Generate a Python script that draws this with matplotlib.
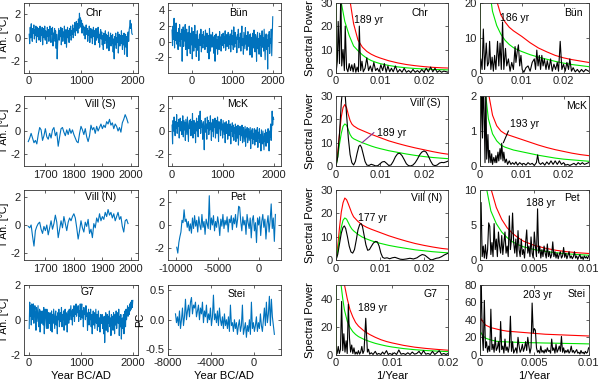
import matplotlib
matplotlib.use("Agg")
import matplotlib.pyplot as plt
import numpy as np

plt.rcParams["font.family"] = ["Liberation Sans", "DejaVu Sans"]
plt.rcParams["font.size"] = 8
plt.rcParams["axes.unicode_minus"] = False

BLUE = "#0072bd"
RED = "#ff0000"
GREEN = "#00e600"
PURPLE = "#7e2f8e"

# ---------------- temperature / proxy records ----------------
chr_span = (0, 1990)
chr_vals = [
    0.3, -0.5, 0.9, 0.0, 1.2, 0.2, -0.3, 0.8, 0.4, 1.1, -0.1, 0.7, 0.2, 1.0, -0.4, 0.6, 0.9, 0.1, 0.8, -0.2,
    0.5, 1.0, -0.3, 0.7, 0.2, 0.9, -0.6, 0.4, 0.8, 0.0, 1.0, -0.2, 0.6, 0.3, -0.5, 0.9, 0.1, 0.7, -0.3, 0.5,
    1.0, 0.2, -0.4, 0.8, 0.3, 0.9, -0.7, 0.4, 0.0, 0.8, -0.3, 0.6, -0.9, 0.3, -1.8, -0.5, 0.2, 0.8, -0.2, 0.6,
    0.1, 0.9, -0.6, 0.4, 0.8, -0.3, 0.5, 0.1, 1.0, -0.5, 0.3, 0.7, -0.8, 0.2, 0.9, 0.0, 0.6, -0.4, 0.8, 0.2,
    1.0, -0.2, 0.6, 0.3, 1.1, 0.0, 0.8, 0.5, 1.3, 0.2, 0.9, 1.4, 0.6, 1.2, 0.4, 1.6, 0.8, 2.1, 1.1, 1.7,
    0.9, 1.5, 0.4, 1.2, 0.7, 1.0, 0.2, 0.9, -0.1, 0.7, 1.1, 0.3, 0.8, -0.3, 0.6, 0.2, 1.0, -0.4, 0.5, 0.8,
    0.0, 0.7, -0.5, 0.4, 0.9, 0.1, 0.6, -0.6, 0.3, 0.8, -0.2, 0.5, 0.0, 0.9, -0.4, 0.3, -0.8, 0.4, 0.7, -0.1,
    0.5, -0.6, 0.2, -1.0, 0.4, 0.1, -0.5, 0.6, -0.2, 0.3, -0.9, 0.2, -0.4, 0.5, -1.1, 0.0, -0.3, 0.4, -0.7, 0.2,
    -0.5, 0.3, -1.2, -0.1, -1.8, 0.1, -0.6, 0.4, -0.9, 0.0, -0.4, 0.5, -1.3, -0.2, 0.3, -0.7, 0.2, -0.5, 0.6, -0.3,
    -1.0, 0.2, -0.6, 0.4, -1.4, -0.1, 0.3, -0.8, 0.1, -1.6, 0.2, 0.5, -0.3, 0.7, 1.0, 1.5, 0.8, 1.2, 0.4, 0.3,
]

bun_span = (-500, 2000)
bun_vals = [
    1.5, -0.5, 2.0, 0.3, 3.0, -0.8, 1.8, 0.2, 2.4, -0.3, 1.2, 0.6, -1.0, 1.7, 0.1, 2.2, -0.6, 1.0, 0.3, 1.6,
    -2.5, 0.8, 1.9, -0.6, 1.4, 0.1, 2.2, -1.0, 0.9, 1.6, -1.8, 0.4, 1.2, -0.9, 2.0, 0.0, -1.5, 1.1, -0.4, 1.8,
    -2.2, 0.6, 1.3, -1.2, 0.2, 2.1, -0.7, 0.9, -1.9, 0.5, 1.4, -1.1, 0.3, -2.4, 0.8, 1.0, -0.5, 1.6, -1.3, 0.2,
    0.9, -0.8, 1.3, -0.2, 0.7, -1.0, 1.5, 0.1, -0.6, 1.1, -1.4, 0.4, 0.8, -2.2, 1.7, 0.0, -1.2, 0.9, 0.3, -0.7,
    1.2, -0.4, 0.6, -1.5, 0.8, -2.5, 0.5, 1.0, -0.9, 0.3, -1.6, 0.7, 0.1, -1.0, 1.3, -0.3, 0.6, -1.2, 0.9, -0.5,
    0.4, 1.1, -0.8, 0.6, -0.2, 1.4, -1.1, 0.5, 0.9, -0.6, 0.2, 1.2, -0.9, 0.7, -0.3, 1.0, -1.3, 0.4, 1.5, -0.4,
    0.8, -1.0, 1.9, 0.1, -0.7, 1.2, -0.2, 0.6, -1.4, 0.9, 0.3, 1.6, -0.8, 0.5, -0.1, 1.1, -1.2, 0.7, 2.0, -0.5,
    0.4, -1.6, 1.2, 0.2, -0.9, 1.8, -0.3, 0.8, -1.1, 0.6, 1.3, -0.6, 0.1, 0.9, -1.7, 1.0, -0.4, 0.5, -2.0, 0.7,
    1.1, -0.8, 1.5, -0.2, -1.3, 0.9, 0.3, -2.5, 0.6, 1.2, -0.9, 0.4, -1.6, 1.1, -0.5, 0.8, -1.9, 0.2, 1.4, -0.7,
    0.5, -1.2, 1.6, -0.3, -2.3, 0.6, 1.0, -1.0, 0.3, -3.5, 0.9, -0.6, 1.3, -1.5, 0.4, -0.2, 1.6, -1.8, 0.8, 3.2,
]

vills_span = (1640, 1990)
vills_vals = [
    -0.9, -0.6, -0.2, -0.6, -1.0, -0.8, -1.1, -0.3, 0.3, 0.1,
    -0.8, -0.4, 0.2, -0.5, -0.7, -0.2, -0.6, 0.1, 0.3, -0.4,
    -0.1, -1.3, -0.5, 0.2, 0.3, -0.1, -0.4, 0.1, -0.3, 0.2,
    -0.2, 0.1, -0.3, -0.6, -0.9, -1.0, -0.2, 0.4, 0.1, -0.3,
    0.2, -0.5, -0.9, -0.4, 0.5, 0.1, 0.3, -0.2, 0.4, 0.0,
    0.3, 0.6, 0.2, 0.5, 0.3, 0.8, 0.6, 1.0, 0.5, 0.7,
    0.2, 0.6, 0.4, 0.0, 0.3, -0.1, 0.7, 1.0, 1.4, 1.1,
    0.7,
]

mck_span = (0, 2000)
mck_vals = [
    0.5, -1.1, 0.9, 0.0, 1.2, 0.3, -0.4, 0.8, 0.2, 1.4, -0.2, 0.7, 0.4, 1.0, -0.6, 0.6, 1.1, 0.0, 0.8, -0.3,
    0.3, 1.3, -0.5, 0.9, 0.1, 0.7, -0.8, 1.0, 0.4, -0.3, 1.2, 0.2, -0.9, 0.6, 0.9, 0.2, 1.0, -0.4, 0.8, 0.1,
    1.5, -0.6, 0.5, 0.9, -0.2, 0.7, -1.0, 0.4, 1.1, 0.0, 0.8, -0.5, 1.3, 0.2, 0.6, 1.7, -0.2, 0.9, 0.3, 0.6,
    -0.7, 0.8, 0.3, -1.6, 0.5, 1.1, -0.1, 0.6, -0.7, 1.2, 0.2, 0.9, -0.3, 0.7, 0.1, 1.3, 0.4, -0.8, 0.7, 0.0,
    1.0, -0.5, 0.8, 0.3, 1.1, -0.6, 0.5, 0.9, -0.2, 1.2, 0.4, -0.9, 0.8, 0.2, 0.7, -0.4, 1.0, 0.1, 0.6, -0.6,
    0.9, 0.3, -0.3, 0.7, -1.0, 0.4, 0.8, -0.2, 0.6, -0.7, 0.3, 0.9, -0.4, 0.2, 0.6, -1.1, 0.4, 0.0, 0.7, -0.5,
    0.5, -0.8, 0.3, -0.2, 0.6, -0.9, 0.4, 0.1, -0.6, 0.5, -1.2, 0.2, -0.3, 0.4, -0.8, 0.3, -0.4, 0.5, -1.0, 0.0,
    0.3, -0.9, -0.2, 0.4, -1.3, 0.1, -0.5, 0.3, -1.0, -0.1, 0.2, -0.8, -0.3, 0.3, -1.5, 0.0, -0.6, 0.2, -1.1, -0.2,
    -0.7, 0.2, -1.2, -0.3, 0.1, -0.9, -0.4, 0.3, -1.4, -0.1, -0.6, 0.2, -1.0, -0.3, -1.7, 0.1, -0.5, -1.1, 0.0, -0.8,
    -1.6, -0.2, -0.9, 0.1, -1.3, -0.4, -0.1, -1.0, 0.2, -0.6, -1.7, 0.0, -0.5, 0.6, -0.8, 0.3, 1.7, 0.5, 1.2, 1.0,
]

villn_span = (1640, 1990)
villn_vals = [
    -0.1, -0.2, 0.0, -0.8, -1.5, -0.4, -0.1, 0.1, 0.2, -0.3,
    -0.6, -0.1, -0.4, 0.0, -0.7, -0.2, 0.3, -0.3, 0.1, 0.7,
    0.2, -0.9, -0.3, 0.3, -0.2, 0.6, 0.1, -0.4, 0.2, 0.5,
    0.3, 0.6, 0.8, 0.5, -0.2, -1.0, -0.4, 0.3, -0.2, -0.5,
    0.2, -0.1, 0.4, -0.6, -0.3, -0.9, 0.1, -0.2, 0.5, 0.2,
    0.8, 0.3, 0.6, 0.4, 0.9, 0.6, 1.1, 0.7, 0.9, 0.5,
    0.8, 0.3, 0.6, 0.9, 0.4, 0.6, -0.1, -0.5, 0.3, 0.4,
    0.1,
]

pet_span = (-9900, 1950)
pet_vals = [
    -1.9, -2.4, -1.5, -1.0, -0.6, 0.4, 0.2, 1.3, 0.3, 0.5,
    -0.2, 0.3, -0.5, 0.1, -0.7, 0.6, -0.3, 0.8, -0.1, 0.4,
    -0.6, 0.7, 0.0, -0.4, 0.9, -0.2, 0.3, -0.8, 0.5, 0.1,
    -0.3, 2.5, -0.4, 0.6, 0.0, 0.8, -0.5, 0.3, -0.2, 0.7,
    0.1, -0.9, 0.5, -0.1, 0.9, -0.3, 0.4, 0.0, 0.7, -0.6,
    0.5, 0.2, 0.8, -0.4, 0.6, 0.1, 0.9, -0.2, 0.5, 1.6,
    1.5, 0.3, -0.5, 0.7, 0.0, 0.4, -0.8, 0.9, 0.2, -0.3,
    0.6, -1.1, 0.4, 0.8, -0.5, 0.2, -1.5, 0.6, 0.0, 0.7,
    -0.9, 0.3, 0.9, -0.2, 0.5, -1.2, 0.1, 0.8, -0.6, 0.4,
    1.8, -0.3, 0.6, -1.4, 0.9,
]

g7_span = (0, 2000)
g7_vals = [
    -0.5, 1.0, 0.2, 0.8, -0.3, 0.9, 0.6, 0.0, 0.9, -0.2, 0.5, 0.8, 0.3, -0.6, 0.7, -0.1, 0.4, 0.8, -0.4, 0.2,
    0.6, -0.7, 0.5, 0.1, -0.2, 0.5, 0.0, -0.3, 0.7, -0.8, 0.3, 0.6, 0.0, -0.5, 0.6, 0.2, -0.5, 0.4, 0.2, -0.2,
    0.4, -0.6, 0.1, 0.5, -0.7, 0.3, -0.2, 0.6, 0.0, -0.5, 0.3, 0.5, -0.3, 0.2, -0.8, 0.4, 0.0, 0.6, -0.4, 0.1,
    0.4, -0.1, 0.7, -0.4, 0.3, 0.0, 0.5, -0.6, 0.2, 0.6, -0.3, 0.4, 0.1, -0.7, 0.3, 0.5, -0.2, 0.6, 0.0, 0.4,
    0.8, 0.0, 0.5, -0.3, 0.6, 0.2, 0.8, -0.1, 0.5, 0.3, 0.9, 0.2, 0.7, 0.4, 0.8, -0.1, 0.5, 0.2, 0.9, 0.0,
    0.6, 0.9, 0.1, 0.5, -0.4, 0.7, 0.3, 0.5, 0.0, 0.8, 0.2, 0.4, -0.6, 0.2, 0.6, -0.3, 0.4, 0.0, 0.6, -0.4,
    0.3, -0.8, 0.2, 0.5, -0.3, 0.4, -0.5, 0.1, 0.6, -0.2, 0.3, -0.6, 0.2, 0.5, -0.4, 0.1, -0.7, 0.3, 0.0, -0.2,
    0.3, -0.5, 0.1, -0.8, 0.2, -1.3, -0.3, 0.4, -0.6, 0.0, 0.3, -0.7, 0.2, -0.2, 0.5, -0.4, 0.1, -0.9, 0.3, -0.3,
    0.2, -0.6, 0.4, 0.0, -0.8, 0.3, -0.3, 0.5, -0.5, 0.1, 0.4, -0.2, 0.6, -0.9, 0.2, -0.4, 0.3, -1.1, -0.2, 0.1,
    -0.5, 0.3, -0.8, 0.2, 0.5, -0.4, 0.6, 0.0, 0.4, 0.8, 0.2, 0.7, 0.3, 0.9, 0.5, 1.0, 0.6, 1.1, 0.7, 1.1,
]

stei_span = (-7300, 1950)
stei_vals = [
    0.1, -0.05, 0.05, -0.1, 0.15, -0.15, 0.0, 0.2, -0.1, 0.05,
    0.35, 0.0, 0.15, 0.25, 0.05, 0.3, 0.38, 0.1, 0.25, 0.2,
    0.3, 0.05, 0.15, 0.25, 0.0, 0.2, 0.1, 0.3, -0.05, 0.15,
    0.05, 0.25, -0.05, 0.1, 0.0, 0.2, -0.1, 0.05, 0.42, 0.0,
    0.1, -0.05, 0.15, -0.1, 0.2, 0.0, -0.1, 0.05, -0.15, 0.1,
    -0.1, 0.0, -0.15, 0.05, -0.2, 0.25, -0.1, -0.05, -0.2, 0.0,
    -0.15, -0.05, -0.25, -0.1, 0.0, -0.2, -0.1, 0.25, -0.25, -0.15,
    -0.05, -0.3, -0.1, -0.2, 0.0, -0.25, 0.3, -0.15, -0.05, -0.2,
    -0.1, 0.05, -0.2, -0.05, -0.15, 0.1, -0.1, -0.2, 0.0, 0.2,
    -0.1, 0.3, -0.05, 0.1, 0.4, -0.1, 0.35, 0.05, -0.1, -0.25,
]

# ---------------- spectra: (frequency, power) pairs ----------------
chr_spec = [
    (0, 0), (0.0003, 5), (0.0005, 22), (0.0008, 4), (0.0011, 35), (0.0013, 3),
    (0.0016, 10), (0.0019, 1), (0.0021, 20), (0.0024, 2), (0.0027, 0.5), (0.003, 4),
    (0.0033, 1), (0.0036, 3.5), (0.0039, 0.5), (0.0042, 4), (0.0045, 0.3), (0.0048, 2.5),
    (0.0051, 0.5), (0.0053, 20), (0.0056, 1), (0.0059, 5), (0.0062, 0.5), (0.0066, 2),
    (0.007, 6.5), (0.0074, 1), (0.0078, 3), (0.0082, 0.5), (0.0086, 4.5), (0.009, 1),
    (0.0094, 2), (0.0098, 0.5), (0.0102, 3.5), (0.0106, 1), (0.011, 4), (0.0114, 0.3),
    (0.0118, 3), (0.0122, 0.5), (0.0126, 2), (0.013, 0.5), (0.0135, 3), (0.014, 0.3),
    (0.0145, 1.5), (0.015, 0.3), (0.0155, 2), (0.016, 0.3), (0.0165, 1), (0.017, 0.2),
    (0.0175, 1.5), (0.018, 0.3), (0.0185, 1), (0.019, 0.2), (0.0195, 1.5), (0.02, 0.3),
    (0.0205, 2), (0.021, 0.5), (0.0215, 2.5), (0.022, 0.5), (0.0225, 2), (0.023, 0.3),
    (0.0235, 1), (0.024, 0.3), (0.0245, 0.8), (0.0255, 0.3),
]
chr_red = [
    (0, 0), (0.0002, 300), (0.001, 150), (0.002, 60), (0.003, 33), (0.004, 21),
    (0.005, 14), (0.006, 11), (0.007, 9.2), (0.008, 8), (0.009, 7.1), (0.010, 6.4),
    (0.012, 5.2), (0.014, 4.3), (0.016, 3.6), (0.018, 3.1), (0.020, 2.7), (0.022, 2.4),
    (0.024, 2.2), (0.0255, 2.1),
]
chr_green = [
    (0, 0), (0.0002, 200), (0.001, 32), (0.002, 22), (0.003, 16), (0.004, 11.5),
    (0.005, 9.5), (0.006, 7.7), (0.007, 6.3), (0.008, 5.3), (0.009, 4.6), (0.010, 4.0),
    (0.012, 3.2), (0.014, 2.6), (0.016, 2.2), (0.018, 1.9), (0.020, 1.7), (0.022, 1.5),
    (0.024, 1.4), (0.0255, 1.3),
]

bun_spec = [
    (0, 0), (0.0002, 4), (0.0005, 1), (0.0008, 12.5), (0.0011, 1), (0.0015, 8.5),
    (0.0018, 2), (0.0021, 3), (0.0023, 9), (0.0026, 1), (0.0029, 4.5), (0.0032, 0.5),
    (0.0035, 5), (0.0038, 1), (0.0042, 9), (0.0045, 2), (0.0048, 8.5), (0.0051, 1),
    (0.0054, 14.5), (0.0057, 1), (0.0061, 7), (0.0064, 2), (0.0068, 4), (0.0072, 0.5),
    (0.0076, 3), (0.008, 1), (0.0084, 7.5), (0.0086, 3), (0.0089, 6), (0.0092, 8),
    (0.0095, 2), (0.0098, 5), (0.0101, 1), (0.0105, 0.2), (0.011, 1.5), (0.0115, 2),
    (0.012, 0.5), (0.0125, 3), (0.013, 4), (0.0133, 1), (0.0136, 6.5), (0.0139, 2),
    (0.0142, 5), (0.0145, 1), (0.0148, 5), (0.0151, 2), (0.0154, 4), (0.0158, 1),
    (0.0161, 3.5), (0.0165, 1), (0.0169, 4), (0.0173, 0.5), (0.0177, 2.5), (0.0181, 1),
    (0.0185, 3), (0.0188, 0.5), (0.0192, 9), (0.0196, 1), (0.02, 2.5), (0.0204, 0.5),
    (0.0208, 3), (0.0212, 1), (0.0215, 4), (0.0219, 0.5), (0.0223, 1.5), (0.0228, 0.3),
    (0.0233, 1), (0.0238, 0.2), (0.0243, 1), (0.0248, 0.3), (0.0253, 1), (0.026, 0.5),
]
bun_red = [
    (0, 0), (0.0002, 200), (0.002, 45), (0.003, 30), (0.004, 20.5), (0.005, 16.5),
    (0.006, 14.5), (0.007, 13), (0.008, 12), (0.009, 11.2), (0.010, 10.4), (0.012, 8.6),
    (0.014, 7.1), (0.016, 6.0), (0.018, 5.0), (0.020, 4.3), (0.022, 3.8), (0.024, 3.4),
    (0.026, 3.0),
]
bun_green = [
    (0, 0), (0.0002, 150), (0.002, 25), (0.0027, 20), (0.003, 17.5), (0.004, 13.5),
    (0.005, 11), (0.006, 9.3), (0.007, 8.1), (0.008, 7.2), (0.009, 6.6), (0.010, 6.1),
    (0.012, 5.2), (0.014, 4.5), (0.016, 3.9), (0.018, 3.3), (0.020, 2.8), (0.022, 2.4),
    (0.024, 2.1), (0.026, 1.8),
]

vills_spec = [
    (0, 0), (0.0004, 4), (0.0008, 14), (0.0012, 27), (0.0015, 33), (0.0018, 34),
    (0.0021, 30), (0.0024, 22), (0.0028, 12), (0.0032, 5), (0.0036, 1.5), (0.004, 0.5),
    (0.0044, 2), (0.0048, 5.5), (0.0052, 8.5), (0.0055, 9), (0.0058, 8), (0.0062, 5),
    (0.0066, 2), (0.007, 0.5), (0.0075, 0.3), (0.008, 0.8), (0.0085, 0.5), (0.009, 0.1),
    (0.0095, 0.2), (0.01, 1), (0.0105, 1.8), (0.011, 2), (0.0115, 1.2), (0.012, 0.3),
    (0.0125, 0.5), (0.013, 2), (0.0135, 4), (0.014, 5.3), (0.0145, 5.5), (0.015, 4.5),
    (0.0155, 2.8), (0.016, 1), (0.0165, 0.2), (0.017, 0.1), (0.0175, 0.5), (0.018, 1.5),
    (0.0185, 3), (0.019, 4.8), (0.0195, 6), (0.02, 6.5), (0.0205, 6), (0.021, 4.3),
    (0.0215, 2.2), (0.022, 0.6), (0.0225, 0.2), (0.023, 0.5), (0.0235, 1.3), (0.024, 1.6),
    (0.0245, 1.5), (0.025, 1.8), (0.0255, 2.2),
]
vills_red = [
    (0, 0), (0.0004, 6), (0.0008, 14), (0.0012, 21), (0.0016, 25), (0.002, 26.3),
    (0.0024, 25), (0.0028, 22), (0.0032, 19.5), (0.0036, 18), (0.004, 17.2), (0.005, 16),
    (0.006, 15.2), (0.007, 14.4), (0.008, 13.6), (0.009, 12.9), (0.01, 12.2), (0.012, 10.8),
    (0.014, 9.7), (0.016, 8.7), (0.018, 7.8), (0.02, 7), (0.022, 6.2), (0.024, 5.5),
    (0.0255, 5.1),
]
vills_green = [
    (0, 0), (0.0004, 4), (0.0008, 9.5), (0.0012, 14), (0.0016, 17), (0.002, 18),
    (0.0024, 17.5), (0.0028, 15.5), (0.0032, 13.5), (0.0036, 12.3), (0.004, 11.7),
    (0.005, 10.8), (0.006, 10), (0.007, 9.3), (0.008, 8.6), (0.009, 8), (0.01, 7.5),
    (0.012, 6.6), (0.014, 5.9), (0.016, 5.2), (0.018, 4.6), (0.02, 4.1), (0.022, 3.7),
    (0.024, 3.4), (0.0255, 3.2),
]

mck_spec = [
    (0, 0), (0.0002, 1.2), (0.0004, 2.5), (0.0006, 0.8), (0.0008, 2.5), (0.001, 1.5),
    (0.0012, 0.1), (0.0014, 2.4), (0.0016, 0.2), (0.0019, 0.9), (0.0021, 0.1), (0.0023, 0.45),
    (0.0026, 0.1), (0.0028, 0.35), (0.003, 0.05), (0.0033, 0.25), (0.0036, 0.1), (0.0038, 0.3),
    (0.004, 0.1), (0.0043, 0.4), (0.0045, 0.15), (0.0048, 0.5), (0.005, 0.2), (0.0052, 0.65),
    (0.0055, 0.15), (0.0057, 0.4), (0.006, 0.1), (0.0063, 0.2), (0.0066, 0.05), (0.007, 0.15),
    (0.0074, 0.05), (0.0078, 0.1), (0.0082, 0.05), (0.0086, 0.12), (0.009, 0.03), (0.0095, 0.1),
    (0.01, 0.05), (0.0105, 0.08), (0.011, 0.03), (0.0115, 0.1), (0.012, 0.05), (0.0125, 0.08),
    (0.013, 0.02), (0.0135, 0.1), (0.0138, 0.32), (0.0141, 0.1), (0.0145, 0.05), (0.015, 0.1),
    (0.0155, 0.03), (0.016, 0.12), (0.0165, 0.05), (0.017, 0.15), (0.0175, 0.05), (0.018, 0.15),
    (0.0185, 0.05), (0.019, 0.15), (0.0195, 0.05), (0.02, 0.1), (0.0205, 0.03), (0.021, 0.05),
    (0.0215, 0.02), (0.022, 0.05), (0.0225, 0.08), (0.023, 0.03), (0.0235, 0.1), (0.024, 0.05),
    (0.0245, 0.1), (0.025, 0.05), (0.026, 0.1),
]
mck_red = [
    (0, 0), (0.0003, 8), (0.001, 4), (0.002, 2.1), (0.003, 1.45), (0.004, 1.15),
    (0.005, 1.0), (0.006, 0.92), (0.008, 0.84), (0.01, 0.76), (0.012, 0.68), (0.014, 0.6),
    (0.016, 0.53), (0.018, 0.47), (0.02, 0.42), (0.022, 0.37), (0.024, 0.33), (0.026, 0.3),
]
mck_green = [
    (0, 0), (0.0002, 6), (0.0013, 2.1), (0.002, 1.35), (0.003, 0.92), (0.004, 0.72),
    (0.005, 0.6), (0.006, 0.54), (0.008, 0.46), (0.01, 0.41), (0.012, 0.36), (0.014, 0.31),
    (0.016, 0.27), (0.018, 0.23), (0.02, 0.2), (0.022, 0.18), (0.024, 0.16), (0.026, 0.14),
]

villn_spec = [
    (0, 0), (0.0004, 2.5), (0.0008, 7), (0.0012, 11.5), (0.0016, 14), (0.0019, 14.6),
    (0.0022, 13.5), (0.0026, 10), (0.003, 6), (0.0034, 3.5), (0.0038, 3), (0.0042, 4.5),
    (0.0046, 8.5), (0.005, 13), (0.0054, 15.3), (0.0057, 15.6), (0.006, 14.5), (0.0064, 10.5),
    (0.0068, 6.5), (0.0072, 4.2), (0.0076, 4.5), (0.008, 5.8), (0.0085, 7.3), (0.009, 8),
    (0.0094, 7.8), (0.0098, 6), (0.0102, 3), (0.0106, 1.2), (0.011, 0.8), (0.0116, 1),
    (0.0122, 0.6), (0.0128, 1), (0.0134, 1.2), (0.014, 0.8), (0.0146, 0.4), (0.0152, 0.3),
    (0.016, 0.5), (0.0168, 0.8), (0.0176, 0.5), (0.0184, 1), (0.019, 1.8), (0.0196, 2.4),
    (0.0202, 2.1), (0.0208, 1.2), (0.0214, 0.3), (0.0218, 0.1), (0.0222, 0.4), (0.0228, 0.8),
    (0.0234, 1), (0.024, 1.5), (0.0246, 2.2), (0.0255, 3),
]
villn_red = [
    (0, 0), (0.0004, 6), (0.0008, 14), (0.0012, 20.5), (0.0016, 24.5), (0.002, 26.5),
    (0.0024, 25.8), (0.0028, 24), (0.0032, 22), (0.0036, 20), (0.004, 18.5), (0.005, 16.5),
    (0.006, 15), (0.007, 14), (0.008, 13.2), (0.009, 12.5), (0.01, 11.8), (0.012, 10.4),
    (0.014, 9.2), (0.016, 8.1), (0.018, 7.1), (0.02, 6.3), (0.022, 5.6), (0.024, 5),
    (0.0255, 4.7),
]
villn_green = [
    (0, 0), (0.0004, 4), (0.0008, 9.5), (0.0012, 14), (0.0016, 17), (0.002, 18),
    (0.0024, 17.5), (0.0028, 16), (0.0032, 14.5), (0.0036, 13.3), (0.004, 12.5), (0.005, 11),
    (0.006, 9.8), (0.007, 9), (0.008, 8.3), (0.009, 7.7), (0.01, 7.2), (0.012, 6.3),
    (0.014, 5.6), (0.016, 5), (0.018, 4.4), (0.02, 4), (0.022, 3.6), (0.024, 3.3),
    (0.0255, 3.1),
]

# Pet and Stei periodograms on a 0.0001 1/yr grid from 0 to 0.01
pet_power = [
    1.5, 8.2, 0.5, 2, 0.3, 2.2, 0.2, 1.5, 5.3, 4.8,
    0.8, 2.5, 0.5, 5.2, 1.5, 3, 0.5, 4, 2, 1,
    3.5, 0.8, 2.5, 4, 1, 2, 0.5, 6.3, 1.5, 3,
    6.7, 2.5, 1, 3, 0.5, 4.2, 1.5, 0.5, 3, 0.8,
    1.5, 0.3, 2.5, 4.3, 1, 2, 0.5, 3.3, 1, 0.3,
    4, 2, 0.5, 7.3, 1, 2, 0.3, 1.5, 0.5, 2,
    1, 0.3, 2.3, 0.5, 1.2, 0.3, 0.8, 2.6, 0.5, 1.2,
    0.3, 1, 0.2, 0.8, 1.2, 0.3, 0.6, 1.8, 0.4, 1,
    0.2, 0.7, 1.2, 0.3, 0.6, 0.2, 0.5, 1.2, 0.3, 0.6,
    0.1, 0.5, 0.8, 0.2, 0.5, 0.1, 0.6, 0.3, 0.5, 0.2,
    0.6,
]
pet_red = [
    (0, 0), (0.00005, 30), (0.0005, 20), (0.001, 10.2), (0.0015, 7.5), (0.002, 5.8),
    (0.0025, 4.6), (0.003, 3.8), (0.0035, 3.2), (0.004, 2.7), (0.0045, 2.4), (0.005, 2.1),
    (0.006, 1.7), (0.007, 1.4), (0.008, 1.2), (0.009, 1.05), (0.01, 0.95),
]
pet_green = [
    (0, 0), (0.00005, 20), (0.0003, 14), (0.0006, 10.2), (0.001, 7), (0.0015, 5.2),
    (0.002, 4), (0.0025, 3.2), (0.003, 2.6), (0.0035, 2.2), (0.004, 1.9), (0.0045, 1.7),
    (0.005, 1.5), (0.006, 1.25), (0.007, 1.05), (0.008, 0.9), (0.009, 0.8), (0.01, 0.7),
]

g7_spec = [
    (0, 0), (0.0002, 1), (0.0004, 6), (0.0006, 1), (0.0008, 4), (0.001, 38),
    (0.0012, 3), (0.0014, 15), (0.0016, 2), (0.0018, 10), (0.002, 1), (0.0022, 36),
    (0.0024, 12), (0.0026, 2), (0.0028, 7), (0.003, 1), (0.0032, 5), (0.0034, 0.5),
    (0.0036, 2), (0.0038, 0.5), (0.004, 3), (0.0042, 0.5), (0.0044, 2), (0.0046, 6),
    (0.0048, 1), (0.005, 3), (0.0053, 26), (0.0056, 2), (0.0058, 4), (0.006, 0.5),
    (0.0063, 1.5), (0.0066, 0.3), (0.007, 2.5), (0.0073, 0.3), (0.0076, 1), (0.008, 0.3),
    (0.0083, 2), (0.0086, 0.5), (0.009, 3), (0.0093, 0.3), (0.0096, 1), (0.01, 0.3),
    (0.0104, 1.5), (0.0108, 0.3), (0.0112, 3.5), (0.0116, 0.5), (0.012, 1), (0.0124, 0.3),
    (0.0128, 1.5), (0.0132, 0.3), (0.0136, 2), (0.014, 0.5), (0.0144, 1), (0.0148, 2.5),
    (0.0152, 0.3), (0.0156, 3), (0.016, 0.5), (0.0164, 1), (0.0168, 0.3), (0.0172, 2.5),
    (0.0176, 0.3), (0.018, 1.5), (0.0184, 3), (0.0188, 0.3), (0.0192, 1), (0.0196, 0.3),
    (0.02, 1),
]
g7_red = [
    (0, 0), (0.0001, 200), (0.0005, 120), (0.001, 70), (0.0015, 50), (0.002, 40),
    (0.0025, 32), (0.003, 27), (0.0035, 23), (0.004, 20.5), (0.005, 17), (0.006, 14.5),
    (0.007, 12.5), (0.008, 10.8), (0.009, 9.5), (0.01, 8.5), (0.012, 6.8), (0.014, 5.5),
    (0.016, 4.6), (0.018, 3.9), (0.02, 3.3),
]
g7_green = [
    (0, 0), (0.0001, 150), (0.0005, 80), (0.0009, 50), (0.0012, 40), (0.0015, 32),
    (0.002, 24), (0.0025, 19.5), (0.003, 16.5), (0.0035, 14.5), (0.004, 13), (0.005, 11),
    (0.006, 9.5), (0.007, 8.2), (0.008, 7.2), (0.009, 6.3), (0.01, 5.6), (0.012, 4.5),
    (0.014, 3.7), (0.016, 3.1), (0.018, 2.7), (0.02, 2.3),
]

stei_power = [
    0, 95, 25, 5, 62, 8, 15, 3, 10, 4,
    52, 6, 12, 3, 20, 5, 8, 15, 3, 38,
    6, 10, 2, 18, 5, 9, 3, 10, 44, 4,
    15, 2, 5, 8, 2, 20, 10, 3, 6, 12,
    4, 8, 15, 5, 20, 10, 2, 8, 59, 25,
    30, 28, 8, 3, 5, 2, 10, 3, 5, 2,
    6, 3, 8, 4, 5, 2, 18, 5, 8, 2,
    12, 3, 6, 10, 4, 21, 3, 8, 2, 5,
    3, 6, 2, 4, 10, 3, 5, 2, 4, 6,
    2, 3, 1, 5, 2, 3, 1, 4, 2, 3,
    8,
]
stei_red = [
    (0, 0), (0.00005, 42), (0.0002, 39), (0.0005, 34), (0.001, 31), (0.0015, 29.5),
    (0.002, 28), (0.0025, 27), (0.003, 26.5), (0.0035, 26), (0.004, 25.5), (0.0045, 25),
    (0.005, 24.5), (0.006, 23.5), (0.007, 23), (0.008, 22.5), (0.009, 22), (0.01, 21.5),
]
stei_green = [
    (0, 0), (0.00005, 26), (0.0002, 23), (0.0005, 19), (0.001, 17), (0.0015, 15.5),
    (0.002, 15), (0.003, 14.5), (0.004, 14), (0.005, 13.8), (0.006, 13.5), (0.007, 13.3),
    (0.008, 13), (0.009, 12.8), (0.01, 12.5),
]

# ---------------- layout ----------------
COL_LEFT = [0.040, 0.280, 0.560, 0.800]
COL_W = [0.190, 0.188, 0.187, 0.181]
ROW_BOTTOM = [0.809, 0.565, 0.319, 0.071]
ROW_H = 0.184


def style(ax):
    ax.tick_params(direction="in", length=2.5, width=0.5, top=True, right=True,
                   labelsize=8, pad=2.5, colors="#222222")
    for sp in ax.spines.values():
        sp.set_linewidth(0.6)
        sp.set_color("#333333")


def series_panel(ax, span, vals, xlim, ylim, xticks, yticks, name, name_xy,
                 ylabel=None, label_x=-0.135):
    x = np.linspace(span[0], span[1], len(vals))
    ax.plot(x, vals, color=BLUE, lw=0.8)
    ax.set_xlim(*xlim)
    ax.set_ylim(*ylim)
    ax.set_xticks(xticks)
    ax.set_yticks(yticks)
    ax.text(*name_xy, name, transform=ax.transAxes, ha="center", va="center", fontsize=7.5)
    if ylabel:
        ax.set_ylabel(ylabel, fontsize=7.5)
        ax.yaxis.set_label_coords(label_x, 0.5)
    style(ax)


def spectrum_panel(ax, black, red, green, xlim, ylim, xticks, xlabels, yticks,
                   name, name_xy, note, note_xy, note_ha="center", pointer=None):
    for pts, col in ((red, RED), (green, GREEN)):
        arr = np.array(pts)
        ax.plot(arr[:, 0], arr[:, 1], color=col, lw=0.8)
    arr = np.array(black)
    ax.plot(arr[:, 0], arr[:, 1], color="black", lw=0.8)
    ax.set_xlim(*xlim)
    ax.set_ylim(*ylim)
    ax.set_xticks(xticks)
    ax.set_xticklabels(xlabels)
    ax.set_yticks(yticks)
    ax.text(*name_xy, name, transform=ax.transAxes, ha="center", va="center", fontsize=7.5)
    ax.text(*note_xy, note, ha=note_ha, va="center", fontsize=7.5)
    if pointer is not None:
        (x0, y0), (x1, y1), col = pointer
        ax.plot([x0, x1], [y0, y1], color=col, lw=0.8)
    style(ax)


fig = plt.figure(figsize=(6.0, 3.82), dpi=100)
axes = [[fig.add_axes([COL_LEFT[c], ROW_BOTTOM[r], COL_W[c], ROW_H]) for c in range(4)]
        for r in range(4)]

TLAB = "T An. [°C]"
YR3 = [1700, 1800, 1900, 2000]

series_panel(axes[0][0], chr_span, chr_vals, (-100, 2100), (-3, 3), [0, 1000, 2000],
             [-2, 0, 2], "Chr", (0.61, 0.86), TLAB)
series_panel(axes[0][1], bun_span, bun_vals, (-600, 2200), (-4, 5), [0, 1000, 2000],
             [-2, 0, 2, 4], "Bün", (0.62, 0.86))
series_panel(axes[1][0], vills_span, vills_vals, (1625, 2025), (-3, 3), YR3,
             [-2, 0, 2], "Vill (S)", (0.67, 0.88), TLAB)
series_panel(axes[1][1], mck_span, mck_vals, (-80, 2140), (-3, 3), [0, 1000, 2000],
             [-2, 0, 2], "McK", (0.62, 0.88))
series_panel(axes[2][0], villn_span, villn_vals, (1625, 2025), (-2.5, 2.5), YR3,
             [-2, 0, 2], "Vill (N)", (0.67, 0.9), TLAB)
series_panel(axes[2][1], pet_span, pet_vals, (-10950, 2600), (-3, 3), [-10000, -5000, 0],
             [-2, 0, 2], "Pet", (0.62, 0.9))
series_panel(axes[3][0], g7_span, g7_vals, (-100, 2100), (-2, 2), [0, 1000, 2000],
             [-2, 0, 2], "G7", (0.56, 0.89), TLAB)
series_panel(axes[3][1], stei_span, stei_vals, (-7800, 2550), (-0.6, 0.6),
             [-8000, -4000, 0], [-0.5, 0, 0.5], "Stei", (0.61, 0.87), "PC", label_x=-0.2)
axes[3][0].set_xlabel("Year BC/AD", fontsize=8, labelpad=2)
axes[3][1].set_xlabel("Year BC/AD", fontsize=8, labelpad=2)

F25 = ([0, 0.01, 0.02], ["0", "0.01", "0.02"])
F10 = ([0, 0.005, 0.01], ["0", "0.005", "0.01"])

spectrum_panel(axes[0][2], chr_spec, chr_red, chr_green, (0, 0.0255), (0, 30), *F25,
               [0, 10, 20, 30], "Chr", (0.75, 0.86), "189 yr", (0.0074, 22.4))
spectrum_panel(axes[0][3], bun_spec, bun_red, bun_green, (0, 0.026), (0, 20), *F25,
               [0, 10, 20], "Bün", (0.86, 0.85), "186 yr", (0.0082, 15.7))
spectrum_panel(axes[1][2], vills_spec, vills_red, vills_green, (0, 0.0255), (0, 30), *F25,
               [0, 10, 20, 30], "Vill (S)", (0.80, 0.9), "189 yr", (0.0093, 14.3),
               note_ha="left", pointer=((0.0059, 10), (0.0086, 14.3), PURPLE))
spectrum_panel(axes[1][3], mck_spec, mck_red, mck_green, (0, 0.026), (0, 2), *F25,
               [0, 1, 2], "McK", (0.89, 0.86), "193 yr", (0.0071, 1.19),
               note_ha="left", pointer=((0.0056, 0.67), (0.0068, 1.0), "black"))
spectrum_panel(axes[2][2], villn_spec, villn_red, villn_green, (0, 0.0255), (0, 30), *F25,
               [0, 10, 20, 30], "Vill (N)", (0.81, 0.89), "177 yr", (0.0082, 18))
spectrum_panel(axes[2][3], list(zip(np.linspace(0, 0.01, len(pet_power)), pet_power)),
               pet_red, pet_green, (0, 0.01), (0, 10), *F10,
               [0, 5, 10], "Pet", (0.85, 0.89), "188 yr", (0.0056, 8.1))
spectrum_panel(axes[3][2], g7_spec, g7_red, g7_green, (0, 0.02), (0, 50), *F25,
               [0, 20, 40], "G7", (0.84, 0.87), "189 yr", (0.0066, 33))
spectrum_panel(axes[3][3], list(zip(np.linspace(0, 0.01, len(stei_power)), stei_power)),
               stei_red, stei_green, (0, 0.01), (0, 80), *F10,
               [0, 20, 40, 60, 80], "Stei", (0.89, 0.87), "203 yr", (0.0053, 67.6))

for r in range(4):
    axes[r][2].set_ylabel("Spectral Power", fontsize=8)
    axes[r][2].yaxis.set_label_coords(-0.19, 0.5)
axes[3][2].set_xlabel("1/Year", fontsize=8, labelpad=2)
axes[3][3].set_xlabel("1/Year", fontsize=8, labelpad=2)

fig.savefig("out.png", dpi=100)
